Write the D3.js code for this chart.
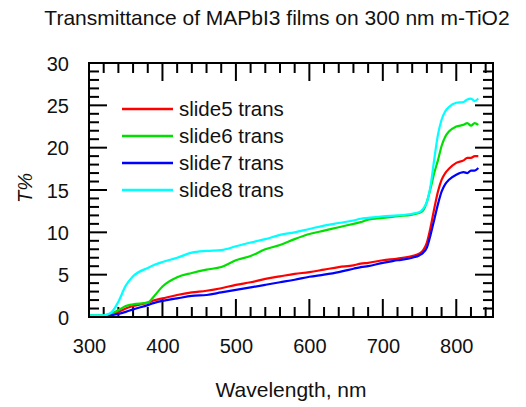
<!DOCTYPE html>
<html>
<head>
<meta charset="utf-8">
<script src="https://cdn.jsdelivr.net/npm/d3@7"></script>
<style>
  html, body { margin: 0; padding: 0; background: #fff; }
  svg { display: block; font-family: Arial, "Liberation Sans", sans-serif; }
</style>
</head>
<body>
<svg id="chart" width="526" height="407"></svg>
<script>
// Wavelength sampling (nm) shared by all series
const wavelength = [300, 320, 330, 340, 350, 360, 380, 390, 400, 420, 440, 460, 480, 500, 520, 540, 560, 580, 600, 620, 640, 660, 670, 680, 700, 720, 740, 750, 755, 760, 765, 770, 775, 780, 785, 790, 800, 810, 815, 820, 825, 830];

// Transmittance (%) per slide
const slide5 = [0.15, 0.15, 0.3, 0.6, 1.0, 1.3, 1.7, 2.0, 2.2, 2.6, 2.9, 3.1, 3.4, 3.8, 4.1, 4.5, 4.8, 5.1, 5.3, 5.6, 5.9, 6.1, 6.3, 6.4, 6.7, 6.9, 7.2, 7.5, 7.9, 8.8, 10.6, 12.8, 14.8, 16.2, 17.0, 17.5, 18.2, 18.5, 18.8, 18.8, 19.0, 19.0];
const slide6 = [0.2, 0.2, 0.4, 0.8, 1.3, 1.5, 1.7, 2.6, 3.6, 4.7, 5.2, 5.6, 5.9, 6.7, 7.2, 8.0, 8.5, 9.2, 9.8, 10.2, 10.6, 11.0, 11.2, 11.5, 11.7, 11.9, 12.1, 12.3, 12.6, 13.6, 15.2, 17.0, 18.5, 20.2, 21.3, 21.9, 22.5, 22.7, 22.9, 22.6, 22.9, 22.7];
const slide7 = [0.1, 0.1, 0.2, 0.35, 0.6, 0.9, 1.4, 1.7, 1.9, 2.2, 2.5, 2.6, 2.9, 3.2, 3.5, 3.8, 4.1, 4.4, 4.75, 5.0, 5.3, 5.7, 5.9, 6.0, 6.4, 6.7, 7.0, 7.3, 7.6, 8.2, 9.7, 11.5, 13.3, 14.8, 15.7, 16.2, 16.8, 17.1, 17.0, 17.3, 17.3, 17.6];
const slide8 = [0.2, 0.2, 0.5, 1.8, 3.7, 4.8, 5.8, 6.2, 6.5, 7.0, 7.6, 7.8, 7.9, 8.35, 8.8, 9.2, 9.7, 10.0, 10.4, 10.8, 11.1, 11.4, 11.6, 11.7, 11.9, 12.0, 12.2, 12.4, 12.8, 13.6, 15.5, 18.6, 21.5, 23.3, 24.3, 24.8, 25.3, 25.4, 25.7, 25.8, 25.5, 25.8];

const seriesNames = ["slide5 trans", "slide6 trans", "slide7 trans", "slide8 trans"];
const seriesColors = ["#ff0000", "#00e000", "#0000ff", "#00ffff"];
const seriesValues = [slide5, slide6, slide7, slide8];

const xTicks = [300, 400, 500, 600, 700, 800];
const yTicks = [0, 5, 10, 15, 20, 25, 30];

const titleText = "Transmittance of MAPbI3 films on 300 nm m-TiO2";
const xLabel = "Wavelength, nm";
const yLabel = "T%";

const svg = d3.select("#chart");
const plotLeft = 89, plotRight = 493, plotTop = 63, plotBottom = 317;

const x = d3.scaleLinear().domain([300, 850]).range([plotLeft, plotRight]);
const y = d3.scaleLinear().domain([0, 30]).range([plotBottom, plotTop]);

// Title
svg.append("text")
  .attr("x", 277).attr("y", 25)
  .attr("text-anchor", "middle")
  .attr("font-size", 21)
  .attr("fill", "#111")
  .text(titleText);

// Ticks on all four sides, pointing inward
const tickG = svg.append("g").attr("stroke", "#000").attr("stroke-width", 2);
d3.range(320, 850, 20).forEach(v => {
  const len = v % 100 === 0 ? 18 : 10;
  tickG.append("line").attr("x1", x(v)).attr("x2", x(v)).attr("y1", plotBottom).attr("y2", plotBottom - len);
  tickG.append("line").attr("x1", x(v)).attr("x2", x(v)).attr("y1", plotTop).attr("y2", plotTop + len);
});
d3.range(1, 30, 1).forEach(v => {
  const len = v % 5 === 0 ? 18 : 10;
  tickG.append("line").attr("x1", plotLeft).attr("x2", plotLeft + len).attr("y1", y(v)).attr("y2", y(v));
  tickG.append("line").attr("x1", plotRight).attr("x2", plotRight - len).attr("y1", y(v)).attr("y2", y(v));
});

// Tick labels via d3 axes (tick lines hidden, labels only)
const xAxis = d3.axisBottom(x).tickValues(xTicks).tickSize(0).tickPadding(0);
svg.append("g")
  .attr("transform", `translate(0,${plotBottom})`)
  .call(xAxis)
  .call(g => g.select(".domain").remove())
  .call(g => g.selectAll("text")
    .attr("font-size", 20)
    .attr("font-family", "Arial, 'Liberation Sans', sans-serif")
    .attr("fill", "#111")
    .attr("dy", null)
    .attr("y", 36));

const yAxis = d3.axisLeft(y).tickValues(yTicks).tickSize(0).tickPadding(0);
svg.append("g")
  .attr("transform", `translate(69,0)`)
  .call(yAxis)
  .call(g => g.select(".domain").remove())
  .call(g => g.selectAll("text")
    .attr("font-size", 20)
    .attr("font-family", "Arial, 'Liberation Sans', sans-serif")
    .attr("fill", "#111")
    .attr("x", 0)
    .attr("dy", "0.36em"));

// Data lines
const line = d3.line()
  .x(d => x(d[0]))
  .y(d => y(d[1]))
  .curve(d3.curveMonotoneX);

svg.append("defs").append("clipPath").attr("id", "plot-clip")
  .append("rect").attr("x", plotLeft).attr("y", plotTop)
  .attr("width", plotRight - plotLeft).attr("height", plotBottom - plotTop);

const linesG = svg.append("g").attr("clip-path", "url(#plot-clip)");
seriesValues.forEach((vals, i) => {
  const pts = wavelength.map((w, j) => [w, vals[j]]);
  linesG.append("path")
    .datum(pts)
    .attr("fill", "none")
    .attr("stroke", seriesColors[i])
    .attr("stroke-width", 2.2)
    .attr("stroke-linejoin", "round")
    .attr("d", line);
});

// Frame
svg.append("rect")
  .attr("x", plotLeft).attr("y", plotTop)
  .attr("width", plotRight - plotLeft).attr("height", plotBottom - plotTop)
  .attr("fill", "none").attr("stroke", "#000").attr("stroke-width", 2);

// Legend
const legend = svg.append("g");
seriesNames.forEach((name, i) => {
  const cy = 109 + i * 27;
  legend.append("line")
    .attr("x1", 122).attr("x2", 173).attr("y1", cy).attr("y2", cy)
    .attr("stroke", seriesColors[i]).attr("stroke-width", 2.5);
  legend.append("text")
    .attr("x", 179).attr("y", cy + 7)
    .attr("font-size", 20.5)
    .attr("fill", "#111")
    .text(name);
});

// Axis titles
svg.append("text")
  .attr("x", 291).attr("y", 397)
  .attr("text-anchor", "middle")
  .attr("font-size", 21)
  .attr("fill", "#111")
  .text(xLabel);

svg.append("text")
  .attr("transform", "translate(32,188) rotate(-90)")
  .attr("text-anchor", "middle")
  .attr("font-size", 20)
  .attr("font-style", "italic")
  .attr("fill", "#111")
  .text(yLabel);
</script>
</body>
</html>
